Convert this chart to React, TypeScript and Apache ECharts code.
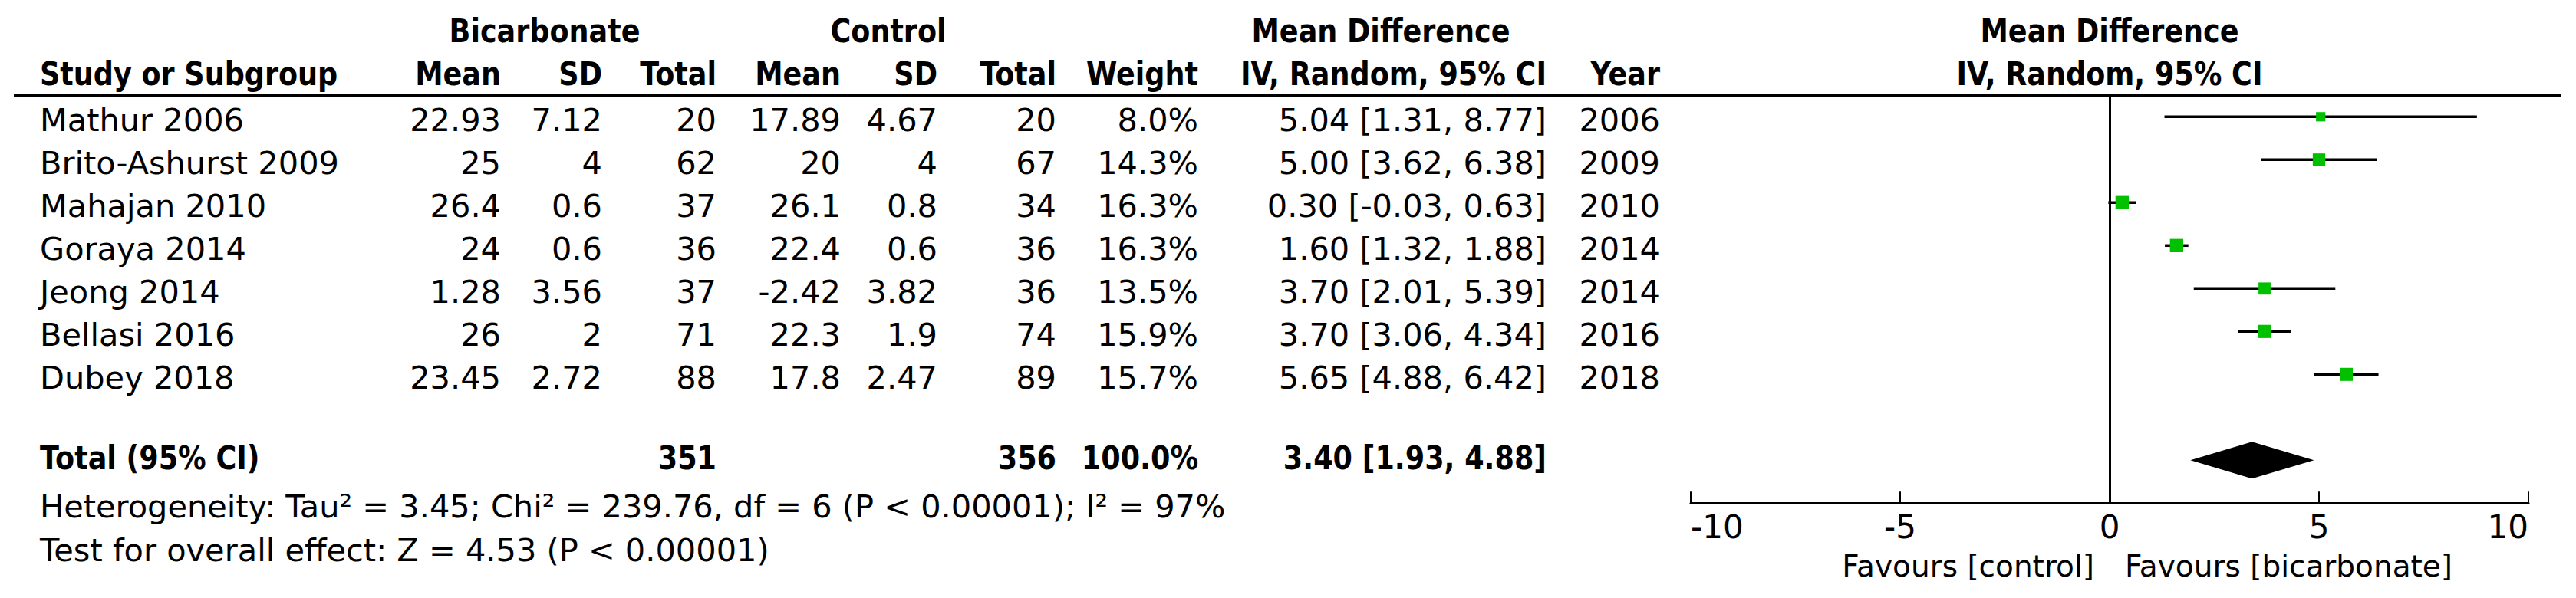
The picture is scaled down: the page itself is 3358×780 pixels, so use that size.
import React, { useEffect, useRef } from "react";
import * as echarts from "echarts";

const studies = ["Mathur 2006", "Brito-Ashurst 2009", "Mahajan 2010", "Goraya 2014", "Jeong 2014", "Bellasi 2016", "Dubey 2018"];
const bicMean = [22.93, 25, 26.4, 24, 1.28, 26, 23.45];
const bicSD = [7.12, 4, 0.6, 0.6, 3.56, 2, 2.72];
const bicN = [20, 62, 37, 36, 37, 71, 88];
const ctrlMean = [17.89, 20, 26.1, 22.4, -2.42, 22.3, 17.8];
const ctrlSD = [4.67, 4, 0.8, 0.6, 3.82, 1.9, 2.47];
const ctrlN = [20, 67, 34, 36, 36, 74, 89];
const weights = [8.0, 14.3, 16.3, 16.3, 13.5, 15.9, 15.7];
const md = [5.04, 5.0, 0.3, 1.6, 3.7, 3.7, 5.65];
const ciLow = [1.31, 3.62, -0.03, 1.32, 2.01, 3.06, 4.88];
const ciHigh = [8.77, 6.38, 0.63, 1.88, 5.39, 4.34, 6.42];
const years = [2006, 2009, 2010, 2014, 2014, 2016, 2018];

const totalBicN = 351;
const totalCtrlN = 356;
const totalWeight = 100.0;
const totalMD = 3.4;
const totalLow = 1.93;
const totalHigh = 4.88;

const xTicks = [-10, -5, 0, 5, 10];
const heterogeneityText = "Heterogeneity: Tau² = 3.45; Chi² = 239.76, df = 6 (P < 0.00001); I² = 97%";
const overallText = "Test for overall effect: Z = 4.53 (P < 0.00001)";
const favoursLeft = "Favours [control]";
const favoursRight = "Favours [bicarbonate]";

const FONT = "DejaVu Sans";
const FS = 41.5;
const FSB = 42;
const BOLD_SX = 0.87;

const ROW0 = 152.3;
const ROWH = 56;

function txt(text: string, x: number, y: number, align: string, bold = false, size?: number) {
  return {
    type: "text",
    x,
    y,
    scaleX: bold ? BOLD_SX : 1,
    silent: true,
    style: {
      text,
      fill: "#000",
      fontFamily: FONT,
      fontSize: size || (bold ? FSB : FS),
      fontWeight: bold ? "bold" : "normal",
      align,
      verticalAlign: "middle",
    },
  };
}

const fmtCI = (m: number, l: number, h: number) => `${m.toFixed(2)} [${l.toFixed(2)}, ${h.toFixed(2)}]`;

export default function App() {
  const ref = useRef<HTMLDivElement>(null);
  useEffect(() => {
    if (!ref.current) return;
    const chart = echarts.init(ref.current, null, { renderer: "svg" });

    const left = 52;
    const colRight = { bm: 653, bs: 785, bn: 934, cm: 1096, cs: 1222, cn: 1377, w: 1562, ci: 2016, yr: 2164 };
    const graphics: any[] = [];
    // group headers
    graphics.push(txt("Bicarbonate", 710, 40, "center", true));
    graphics.push(txt("Control", 1158, 40, "center", true));
    graphics.push(txt("Mean Difference", 1800, 40, "center", true));
    graphics.push(txt("Mean Difference", 2750, 40, "center", true));
    // column headers
    const hy = 96;
    graphics.push(txt("Study or Subgroup", left, hy, "left", true));
    graphics.push(txt("Mean", colRight.bm, hy, "right", true));
    graphics.push(txt("SD", colRight.bs, hy, "right", true));
    graphics.push(txt("Total", colRight.bn, hy, "right", true));
    graphics.push(txt("Mean", colRight.cm, hy, "right", true));
    graphics.push(txt("SD", colRight.cs, hy, "right", true));
    graphics.push(txt("Total", colRight.cn, hy, "right", true));
    graphics.push(txt("Weight", colRight.w, hy, "right", true));
    graphics.push(txt("IV, Random, 95% CI", colRight.ci, hy, "right", true));
    graphics.push(txt("Year", colRight.yr, hy, "right", true));
    graphics.push(txt("IV, Random, 95% CI", 2750, hy, "center", true));
    // header rule
    graphics.push({
      type: "line",
      silent: true,
      shape: { x1: 18, y1: 124, x2: 3338, y2: 124 },
      style: { stroke: "#000", lineWidth: 4 },
    });
    // rows
    studies.forEach((s, i) => {
      const y = ROW0 + ROWH * i + 4;
      graphics.push(txt(s, left, y, "left"));
      graphics.push(txt(String(bicMean[i]), colRight.bm, y, "right"));
      graphics.push(txt(String(bicSD[i]), colRight.bs, y, "right"));
      graphics.push(txt(String(bicN[i]), colRight.bn, y, "right"));
      graphics.push(txt(String(ctrlMean[i]), colRight.cm, y, "right"));
      graphics.push(txt(String(ctrlSD[i]), colRight.cs, y, "right"));
      graphics.push(txt(String(ctrlN[i]), colRight.cn, y, "right"));
      graphics.push(txt(weights[i].toFixed(1) + "%", colRight.w, y, "right"));
      graphics.push(txt(fmtCI(md[i], ciLow[i], ciHigh[i]), colRight.ci, y, "right"));
      graphics.push(txt(String(years[i]), colRight.yr, y, "right"));
    });
    // total row
    const ty = 597;
    graphics.push(txt("Total (95% CI)", left, ty, "left", true));
    graphics.push(txt(String(totalBicN), colRight.bn, ty, "right", true));
    graphics.push(txt(String(totalCtrlN), colRight.cn, ty, "right", true));
    graphics.push(txt(totalWeight.toFixed(1) + "%", colRight.w, ty, "right", true));
    graphics.push(txt(fmtCI(totalMD, totalLow, totalHigh), colRight.ci, ty, "right", true));
    graphics.push(txt(heterogeneityText, left, 660, "left"));
    graphics.push(txt(overallText, left, 717, "left"));
    graphics.push(txt(favoursLeft, 2730, 738, "right", false, 39));
    graphics.push(txt(favoursRight, 2770, 738, "left", false, 39));

    const studyData = studies.map((_, i) => [md[i], i, ciLow[i], ciHigh[i], weights[i]]);
    const totalRow = studies.length + 1;

    chart.setOption({
      animation: false,
      backgroundColor: "#fff",
      grid: { left: 2204, right: 62, top: 124.3, bottom: 123.7 },
      xAxis: {
        type: "value",
        min: xTicks[0],
        max: xTicks[xTicks.length - 1],
        interval: 5,
        axisLine: { show: true, onZero: false, lineStyle: { color: "#000", width: 3 } },
        axisTick: { show: true, inside: true, length: 15, lineStyle: { color: "#000", width: 2 } },
        axisLabel: {
          color: "#000",
          fontFamily: FONT,
          fontSize: 42,
          margin: 10,
          alignMinLabel: "left",
          alignMaxLabel: "right",
        },
        splitLine: { show: false },
      },
      yAxis: {
        type: "value",
        inverse: true,
        min: -0.5,
        max: 9,
        axisLine: { show: true, onZero: true, lineStyle: { color: "#000", width: 3 } },
        axisTick: { show: false },
        axisLabel: { show: false },
        splitLine: { show: false },
      },
      graphic: graphics,
      series: [
        {
          type: "custom",
          name: "Studies",
          data: studyData,
          encode: { x: [0, 2, 3], y: 1 },
          renderItem: (params: any, api: any) => {
            const p = api.coord([api.value(0), api.value(1)]);
            const pl = api.coord([api.value(2), api.value(1)]);
            const ph = api.coord([api.value(3), api.value(1)]);
            const s = 4.3 * Math.sqrt(api.value(4));
            return {
              type: "group",
              children: [
                {
                  type: "line",
                  shape: { x1: pl[0], y1: pl[1], x2: ph[0], y2: ph[1] },
                  style: { stroke: "#000", lineWidth: 3.5 },
                },
                {
                  type: "rect",
                  shape: { x: p[0] - s / 2, y: p[1] - s / 2, width: s, height: s },
                  style: { fill: "#00C000" },
                },
              ],
            };
          },
        },
        {
          type: "custom",
          name: "Total",
          data: [[totalMD, totalRow, totalLow, totalHigh]],
          encode: { x: [0, 2, 3], y: 1 },
          renderItem: (params: any, api: any) => {
            const p = api.coord([api.value(0), api.value(1)]);
            const pl = api.coord([api.value(2), api.value(1)]);
            const ph = api.coord([api.value(3), api.value(1)]);
            const h = 24;
            return {
              type: "polygon",
              shape: { points: [[pl[0], p[1]], [p[0], p[1] - h], [ph[0], p[1]], [p[0], p[1] + h]] },
              style: { fill: "#000" },
            };
          },
        },
      ],
    });
    return () => chart.dispose();
  }, []);
  return <div ref={ref} style={{ position: "absolute", left: 0, top: 0, width: 3358, height: 780, background: "#fff" }} />;
}
